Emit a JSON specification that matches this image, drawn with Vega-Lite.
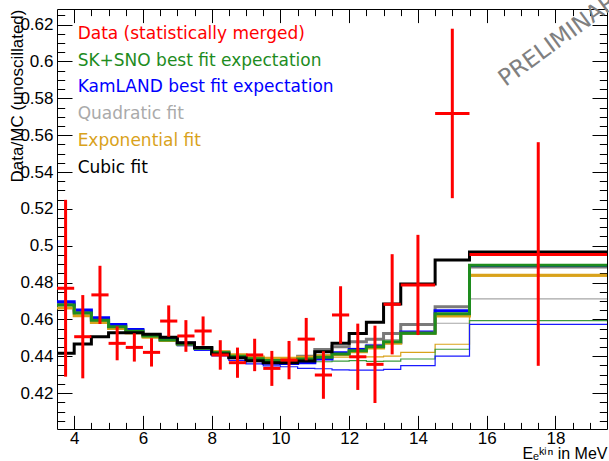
{
  "$schema": "https://vega.github.io/schema/vega-lite/v6.json",
  "width": 550,
  "height": 420,
  "autosize": {"type": "none"},
  "padding": {"left": 57, "top": 9, "right": 2, "bottom": 32},
  "background": "white",
  "config": {
    "view": {"stroke": "black", "strokeWidth": 1},
    "font": "Liberation Sans",
    "axis": {
      "domain": false, "grid": false,
      "labelFont": "Liberation Sans", "labelFontSize": 17, "labelColor": "black",
      "tickColor": "black", "tickWidth": 1,
      "titleFont": "Liberation Sans", "titleFontWeight": "normal", "titleColor": "black",
      "labelFlush": false, "labelOverlap": false
    }
  },
  "datasets": {
    "hist": [
      {"E": 3.5, "KamLAND": 0.4696, "Quadratic": 0.4685, "SKSNO": 0.4678, "Exponential": 0.4662, "Cubic": 0.4416, "KamLAND_t": 0.4694, "Quadratic_t": 0.4683, "SKSNO_t": 0.4676, "Exponential_t": 0.466},
      {"E": 4.0, "KamLAND": 0.4651, "Quadratic": 0.4642, "SKSNO": 0.4635, "Exponential": 0.462, "Cubic": 0.4466, "KamLAND_t": 0.4648, "Quadratic_t": 0.464, "SKSNO_t": 0.4632, "Exponential_t": 0.4618},
      {"E": 4.5, "KamLAND": 0.4609, "Quadratic": 0.4601, "SKSNO": 0.4595, "Exponential": 0.4583, "Cubic": 0.4506, "KamLAND_t": 0.4605, "Quadratic_t": 0.4598, "SKSNO_t": 0.4592, "Exponential_t": 0.458},
      {"E": 5.0, "KamLAND": 0.4572, "Quadratic": 0.4566, "SKSNO": 0.456, "Exponential": 0.455, "Cubic": 0.4528, "KamLAND_t": 0.4567, "Quadratic_t": 0.4563, "SKSNO_t": 0.4556, "Exponential_t": 0.4547},
      {"E": 5.5, "KamLAND": 0.4545, "Quadratic": 0.454, "SKSNO": 0.4535, "Exponential": 0.4527, "Cubic": 0.4528, "KamLAND_t": 0.4538, "Quadratic_t": 0.4537, "SKSNO_t": 0.453, "Exponential_t": 0.4523},
      {"E": 6.0, "KamLAND": 0.4517, "Quadratic": 0.4514, "SKSNO": 0.451, "Exponential": 0.4505, "Cubic": 0.4519, "KamLAND_t": 0.4508, "Quadratic_t": 0.451, "SKSNO_t": 0.4504, "Exponential_t": 0.45},
      {"E": 6.5, "KamLAND": 0.4494, "Quadratic": 0.4492, "SKSNO": 0.4488, "Exponential": 0.4485, "Cubic": 0.4503, "KamLAND_t": 0.4483, "Quadratic_t": 0.4488, "SKSNO_t": 0.448, "Exponential_t": 0.448},
      {"E": 7.0, "KamLAND": 0.4471, "Quadratic": 0.4471, "SKSNO": 0.4467, "Exponential": 0.4466, "Cubic": 0.4473, "KamLAND_t": 0.4458, "Quadratic_t": 0.4466, "SKSNO_t": 0.4458, "Exponential_t": 0.446},
      {"E": 7.5, "KamLAND": 0.4445, "Quadratic": 0.4448, "SKSNO": 0.4444, "Exponential": 0.4446, "Cubic": 0.4448, "KamLAND_t": 0.4432, "Quadratic_t": 0.4442, "SKSNO_t": 0.4434, "Exponential_t": 0.4438},
      {"E": 8.0, "KamLAND": 0.4415, "Quadratic": 0.4423, "SKSNO": 0.442, "Exponential": 0.4425, "Cubic": 0.4412, "KamLAND_t": 0.4402, "Quadratic_t": 0.4416, "SKSNO_t": 0.4408, "Exponential_t": 0.4415},
      {"E": 8.5, "KamLAND": 0.4393, "Quadratic": 0.4404, "SKSNO": 0.44, "Exponential": 0.4408, "Cubic": 0.4392, "KamLAND_t": 0.4378, "Quadratic_t": 0.4396, "SKSNO_t": 0.4388, "Exponential_t": 0.4398},
      {"E": 9.0, "KamLAND": 0.4375, "Quadratic": 0.4392, "SKSNO": 0.4386, "Exponential": 0.4396, "Cubic": 0.4376, "KamLAND_t": 0.4359, "Quadratic_t": 0.4382, "SKSNO_t": 0.4375, "Exponential_t": 0.4386},
      {"E": 9.5, "KamLAND": 0.4362, "Quadratic": 0.4385, "SKSNO": 0.4377, "Exponential": 0.4389, "Cubic": 0.4365, "KamLAND_t": 0.4348, "Quadratic_t": 0.4373, "SKSNO_t": 0.4368, "Exponential_t": 0.4381},
      {"E": 10.0, "KamLAND": 0.436, "Quadratic": 0.4385, "SKSNO": 0.4376, "Exponential": 0.4389, "Cubic": 0.4365, "KamLAND_t": 0.4343, "Quadratic_t": 0.437, "SKSNO_t": 0.4367, "Exponential_t": 0.438},
      {"E": 10.5, "KamLAND": 0.4365, "Quadratic": 0.44, "SKSNO": 0.4385, "Exponential": 0.4395, "Cubic": 0.4374, "KamLAND_t": 0.4334, "Quadratic_t": 0.4383, "SKSNO_t": 0.4367, "Exponential_t": 0.4385},
      {"E": 11.0, "KamLAND": 0.4385, "Quadratic": 0.4437, "SKSNO": 0.4395, "Exponential": 0.4402, "Cubic": 0.4425, "KamLAND_t": 0.4332, "Quadratic_t": 0.4408, "SKSNO_t": 0.437, "Exponential_t": 0.439},
      {"E": 11.5, "KamLAND": 0.4419, "Quadratic": 0.4452, "SKSNO": 0.4412, "Exponential": 0.441, "Cubic": 0.447, "KamLAND_t": 0.4326, "Quadratic_t": 0.442, "SKSNO_t": 0.4374, "Exponential_t": 0.4395},
      {"E": 12.0, "KamLAND": 0.4437, "Quadratic": 0.4479, "SKSNO": 0.443, "Exponential": 0.4425, "Cubic": 0.4524, "KamLAND_t": 0.4325, "Quadratic_t": 0.4443, "SKSNO_t": 0.4376, "Exponential_t": 0.4397},
      {"E": 12.5, "KamLAND": 0.4455, "Quadratic": 0.4492, "SKSNO": 0.4452, "Exponential": 0.4445, "Cubic": 0.4585, "KamLAND_t": 0.4325, "Quadratic_t": 0.4465, "SKSNO_t": 0.4372, "Exponential_t": 0.4397},
      {"E": 13.0, "KamLAND": 0.4475, "Quadratic": 0.4524, "SKSNO": 0.4479, "Exponential": 0.447, "Cubic": 0.4684, "KamLAND_t": 0.4329, "Quadratic_t": 0.449, "SKSNO_t": 0.4374, "Exponential_t": 0.4401},
      {"E": 13.5, "KamLAND": 0.4532, "Quadratic": 0.4572, "SKSNO": 0.4525, "Exponential": 0.4525, "Cubic": 0.4792, "KamLAND_t": 0.4349, "Quadratic_t": 0.4519, "SKSNO_t": 0.4385, "Exponential_t": 0.4421},
      {"E": 14.5, "KamLAND": 0.4647, "Quadratic": 0.4669, "SKSNO": 0.463, "Exponential": 0.4618, "Cubic": 0.4923, "KamLAND_t": 0.4401, "Quadratic_t": 0.4579, "SKSNO_t": 0.4438, "Exponential_t": 0.4465},
      {"E": 15.5, "KamLAND": 0.4892, "Quadratic": 0.4885, "SKSNO": 0.4894, "Exponential": 0.484, "Cubic": 0.4966, "KamLAND_t": 0.4573, "Quadratic_t": 0.4711, "SKSNO_t": 0.4593, "Exponential_t": 0.4835},
      {"E": 19.5, "KamLAND": 0.4892, "Quadratic": 0.4885, "SKSNO": 0.4894, "Exponential": 0.484, "Cubic": 0.4966, "KamLAND_t": 0.4573, "Quadratic_t": 0.4711, "SKSNO_t": 0.4593, "Exponential_t": 0.4835}
    ],
    "points": [
      {"E": 3.75, "Elo": 3.5, "Ehi": 4.0, "r": 0.4769, "lo": 0.4289, "hi": 0.5249},
      {"E": 4.25, "Elo": 4.0, "Ehi": 4.5, "r": 0.4506, "lo": 0.428, "hi": 0.4732},
      {"E": 4.75, "Elo": 4.5, "Ehi": 5.0, "r": 0.4733, "lo": 0.4575, "hi": 0.4891},
      {"E": 5.25, "Elo": 5.0, "Ehi": 5.5, "r": 0.447, "lo": 0.4378, "hi": 0.4562},
      {"E": 5.75, "Elo": 5.5, "Ehi": 6.0, "r": 0.4448, "lo": 0.4371, "hi": 0.4525},
      {"E": 6.25, "Elo": 6.0, "Ehi": 6.5, "r": 0.4421, "lo": 0.4344, "hi": 0.4498},
      {"E": 6.75, "Elo": 6.5, "Ehi": 7.0, "r": 0.4591, "lo": 0.4506, "hi": 0.4676},
      {"E": 7.25, "Elo": 7.0, "Ehi": 7.5, "r": 0.451, "lo": 0.4424, "hi": 0.4596},
      {"E": 7.75, "Elo": 7.5, "Ehi": 8.0, "r": 0.4537, "lo": 0.4458, "hi": 0.4616},
      {"E": 8.25, "Elo": 8.0, "Ehi": 8.5, "r": 0.4407, "lo": 0.4327, "hi": 0.4487},
      {"E": 8.75, "Elo": 8.5, "Ehi": 9.0, "r": 0.4365, "lo": 0.4283, "hi": 0.4447},
      {"E": 9.25, "Elo": 9.0, "Ehi": 9.5, "r": 0.4407, "lo": 0.4319, "hi": 0.4495},
      {"E": 9.75, "Elo": 9.5, "Ehi": 10.0, "r": 0.4334, "lo": 0.4239, "hi": 0.4429},
      {"E": 10.25, "Elo": 10.0, "Ehi": 10.5, "r": 0.4379, "lo": 0.4275, "hi": 0.4483},
      {"E": 10.75, "Elo": 10.5, "Ehi": 11.0, "r": 0.4493, "lo": 0.4378, "hi": 0.4608},
      {"E": 11.25, "Elo": 11.0, "Ehi": 11.5, "r": 0.4298, "lo": 0.4169, "hi": 0.4427},
      {"E": 11.75, "Elo": 11.5, "Ehi": 12.0, "r": 0.4624, "lo": 0.4468, "hi": 0.478},
      {"E": 12.25, "Elo": 12.0, "Ehi": 12.5, "r": 0.4397, "lo": 0.4217, "hi": 0.4577},
      {"E": 12.75, "Elo": 12.5, "Ehi": 13.0, "r": 0.4356, "lo": 0.4146, "hi": 0.4566},
      {"E": 13.25, "Elo": 13.0, "Ehi": 13.5, "r": 0.4682, "lo": 0.441, "hi": 0.4954},
      {"E": 14.0, "Elo": 13.5, "Ehi": 14.5, "r": 0.4787, "lo": 0.4515, "hi": 0.5059},
      {"E": 15.0, "Elo": 14.5, "Ehi": 15.5, "r": 0.5718, "lo": 0.5258, "hi": 0.6178},
      {"E": 17.5, "Elo": 15.5, "Ehi": 19.5, "r": 0.4952, "lo": 0.4348, "hi": 0.5562}
    ],
    "legend": [
      {"label": "Data (statistically merged)", "E": 4.1, "r": 0.6122},
      {"label": "SK+SNO best fit expectation", "E": 4.1, "r": 0.5973},
      {"label": "KamLAND best fit expectation", "E": 4.1, "r": 0.5832},
      {"label": "Quadratic fit", "E": 4.1, "r": 0.5688},
      {"label": "Exponential fit", "E": 4.1, "r": 0.5542},
      {"label": "Cubic fit", "E": 4.1, "r": 0.5397}
    ],
    "note": [
      {"text": "PRELIMINARY", "E": 16.55, "r": 0.5862}
    ]
  },
  "resolve": {
    "axis": {"x": "independent", "y": "independent"},
    "scale": {"color": "independent"}
  },
  "layer": [
    {
      "data": {"name": "hist"},
      "transform": [{"fold": ["Quadratic_t", "Exponential_t", "SKSNO_t", "KamLAND_t"], "as": ["model", "r"]}],
      "mark": {"type": "line", "interpolate": "step-after", "strokeWidth": 1.2},
      "encoding": {
        "x": {"field": "E", "type": "quantitative", "scale": {"domain": [3.5, 19.5], "nice": false, "zero": false},
              "axis": {"orient": "bottom", "values": [4, 4.5, 5, 5.5, 6, 6.5, 7, 7.5, 8, 8.5, 9, 9.5, 10, 10.5, 11, 11.5, 12, 12.5, 13, 13.5, 14, 14.5, 15, 15.5, 16, 16.5, 17, 17.5, 18, 18.5, 19], "tickSize": -6.6, "labels": false, "title": null}},
        "y": {"field": "r", "type": "quantitative", "scale": {"domain": [0.4005, 0.6285], "nice": false, "zero": false},
              "axis": {"orient": "left", "values": [0.405, 0.41, 0.415, 0.42, 0.425, 0.43, 0.435, 0.44, 0.445, 0.45, 0.455, 0.46, 0.465, 0.47, 0.475, 0.48, 0.485, 0.49, 0.495, 0.5, 0.505, 0.51, 0.515, 0.52, 0.525, 0.53, 0.535, 0.54, 0.545, 0.55, 0.555, 0.56, 0.565, 0.57, 0.575, 0.58, 0.585, 0.59, 0.595, 0.6, 0.605, 0.61, 0.615, 0.62, 0.625], "tickSize": -7.7, "labels": false, "title": null}},
        "color": {"field": "model", "type": "nominal", "legend": null,
                  "scale": {"domain": ["Quadratic_t", "Exponential_t", "SKSNO_t", "KamLAND_t"], "range": ["#a6a6a6", "#d9a21b", "#3c9a3c", "#1a1aff"]}}
      }
    },
    {
      "data": {"name": "hist"},
      "transform": [{"fold": ["Quadratic", "KamLAND", "Exponential", "SKSNO", "Cubic"], "as": ["model", "r"]}],
      "mark": {"type": "line", "interpolate": "step-after", "strokeWidth": 3},
      "encoding": {
        "x": {"field": "E", "type": "quantitative", "scale": {"domain": [3.5, 19.5], "nice": false, "zero": false},
              "axis": {"orient": "bottom", "values": [4, 6, 8, 10, 12, 14, 16, 18], "tickSize": -13.6, "labelPadding": 15, "format": "d",
                       "title": "Eₑᵏⁱⁿ in MeV", "titleFontSize": 16, "titleAnchor": "end", "titleAlign": "right", "titleBaseline": "alphabetic", "titleX": 550, "titleY": 29.5}},
        "y": {"field": "r", "type": "quantitative", "scale": {"domain": [0.4005, 0.6285], "nice": false, "zero": false},
              "axis": {"orient": "left", "values": [0.42, 0.44, 0.46, 0.48, 0.5, 0.52, 0.54, 0.56, 0.58, 0.6, 0.62], "tickSize": -15, "labelPadding": 19, "format": ".2~f",
                       "title": "Data/MC (unoscillated)", "titleFontSize": 17, "titleAngle": 270, "titleAnchor": "end", "titleAlign": "right", "titleBaseline": "alphabetic", "titleX": -35, "titleY": 0}},
        "color": {"field": "model", "type": "nominal", "legend": null,
                  "scale": {"domain": ["Quadratic", "KamLAND", "Exponential", "SKSNO", "Cubic"], "range": ["#7a7a7a", "#0000ff", "#d9a21b", "#1e8c1e", "#000000"]}}
      }
    },
    {
      "data": {"name": "points"},
      "mark": {"type": "rule", "color": "#ff0000", "strokeWidth": 3},
      "encoding": {
        "x": {"field": "E", "type": "quantitative", "scale": {"domain": [3.5, 19.5], "nice": false, "zero": false},
              "axis": {"orient": "top", "values": [4, 6, 8, 10, 12, 14, 16, 18], "tickSize": -13.6, "labels": false, "title": null}},
        "y": {"field": "lo", "type": "quantitative", "scale": {"domain": [0.4005, 0.6285], "nice": false, "zero": false},
              "axis": {"orient": "right", "values": [0.42, 0.44, 0.46, 0.48, 0.5, 0.52, 0.54, 0.56, 0.58, 0.6, 0.62], "tickSize": -15, "labels": false, "title": null}},
        "y2": {"field": "hi"}
      }
    },
    {
      "data": {"name": "points"},
      "mark": {"type": "rule", "color": "#ff0000", "strokeWidth": 3},
      "encoding": {
        "x": {"field": "Elo", "type": "quantitative", "scale": {"domain": [3.5, 19.5], "nice": false, "zero": false},
              "axis": {"orient": "top", "values": [4, 4.5, 5, 5.5, 6, 6.5, 7, 7.5, 8, 8.5, 9, 9.5, 10, 10.5, 11, 11.5, 12, 12.5, 13, 13.5, 14, 14.5, 15, 15.5, 16, 16.5, 17, 17.5, 18, 18.5, 19], "tickSize": -6.6, "labels": false, "title": null}},
        "x2": {"field": "Ehi"},
        "y": {"field": "r", "type": "quantitative", "scale": {"domain": [0.4005, 0.6285], "nice": false, "zero": false},
              "axis": {"orient": "right", "values": [0.405, 0.41, 0.415, 0.42, 0.425, 0.43, 0.435, 0.44, 0.445, 0.45, 0.455, 0.46, 0.465, 0.47, 0.475, 0.48, 0.485, 0.49, 0.495, 0.5, 0.505, 0.51, 0.515, 0.52, 0.525, 0.53, 0.535, 0.54, 0.545, 0.55, 0.555, 0.56, 0.565, 0.57, 0.575, 0.58, 0.585, 0.59, 0.595, 0.6, 0.605, 0.61, 0.615, 0.62, 0.625], "tickSize": -7.7, "labels": false, "title": null}}
      }
    },
    {
      "data": {"name": "legend"},
      "mark": {"type": "text", "align": "left", "baseline": "alphabetic", "fontSize": 17, "font": "DejaVu Sans"},
      "encoding": {
        "x": {"field": "E", "type": "quantitative", "axis": null},
        "y": {"field": "r", "type": "quantitative", "axis": null},
        "text": {"field": "label"},
        "color": {"field": "label", "type": "nominal", "legend": null,
                  "scale": {"domain": ["Data (statistically merged)", "SK+SNO best fit expectation", "KamLAND best fit expectation", "Quadratic fit", "Exponential fit", "Cubic fit"],
                            "range": ["#ff0000", "#1e8c1e", "#0000ff", "#aaaaaa", "#d9a21b", "#000000"]}}
      }
    },
    {
      "data": {"name": "note"},
      "mark": {"type": "text", "align": "left", "baseline": "alphabetic", "fontSize": 23, "angle": 324, "color": "#808080", "font": "DejaVu Sans"},
      "encoding": {
        "x": {"field": "E", "type": "quantitative", "axis": null},
        "y": {"field": "r", "type": "quantitative", "axis": null},
        "text": {"field": "text"}
      }
    }
  ]
}
